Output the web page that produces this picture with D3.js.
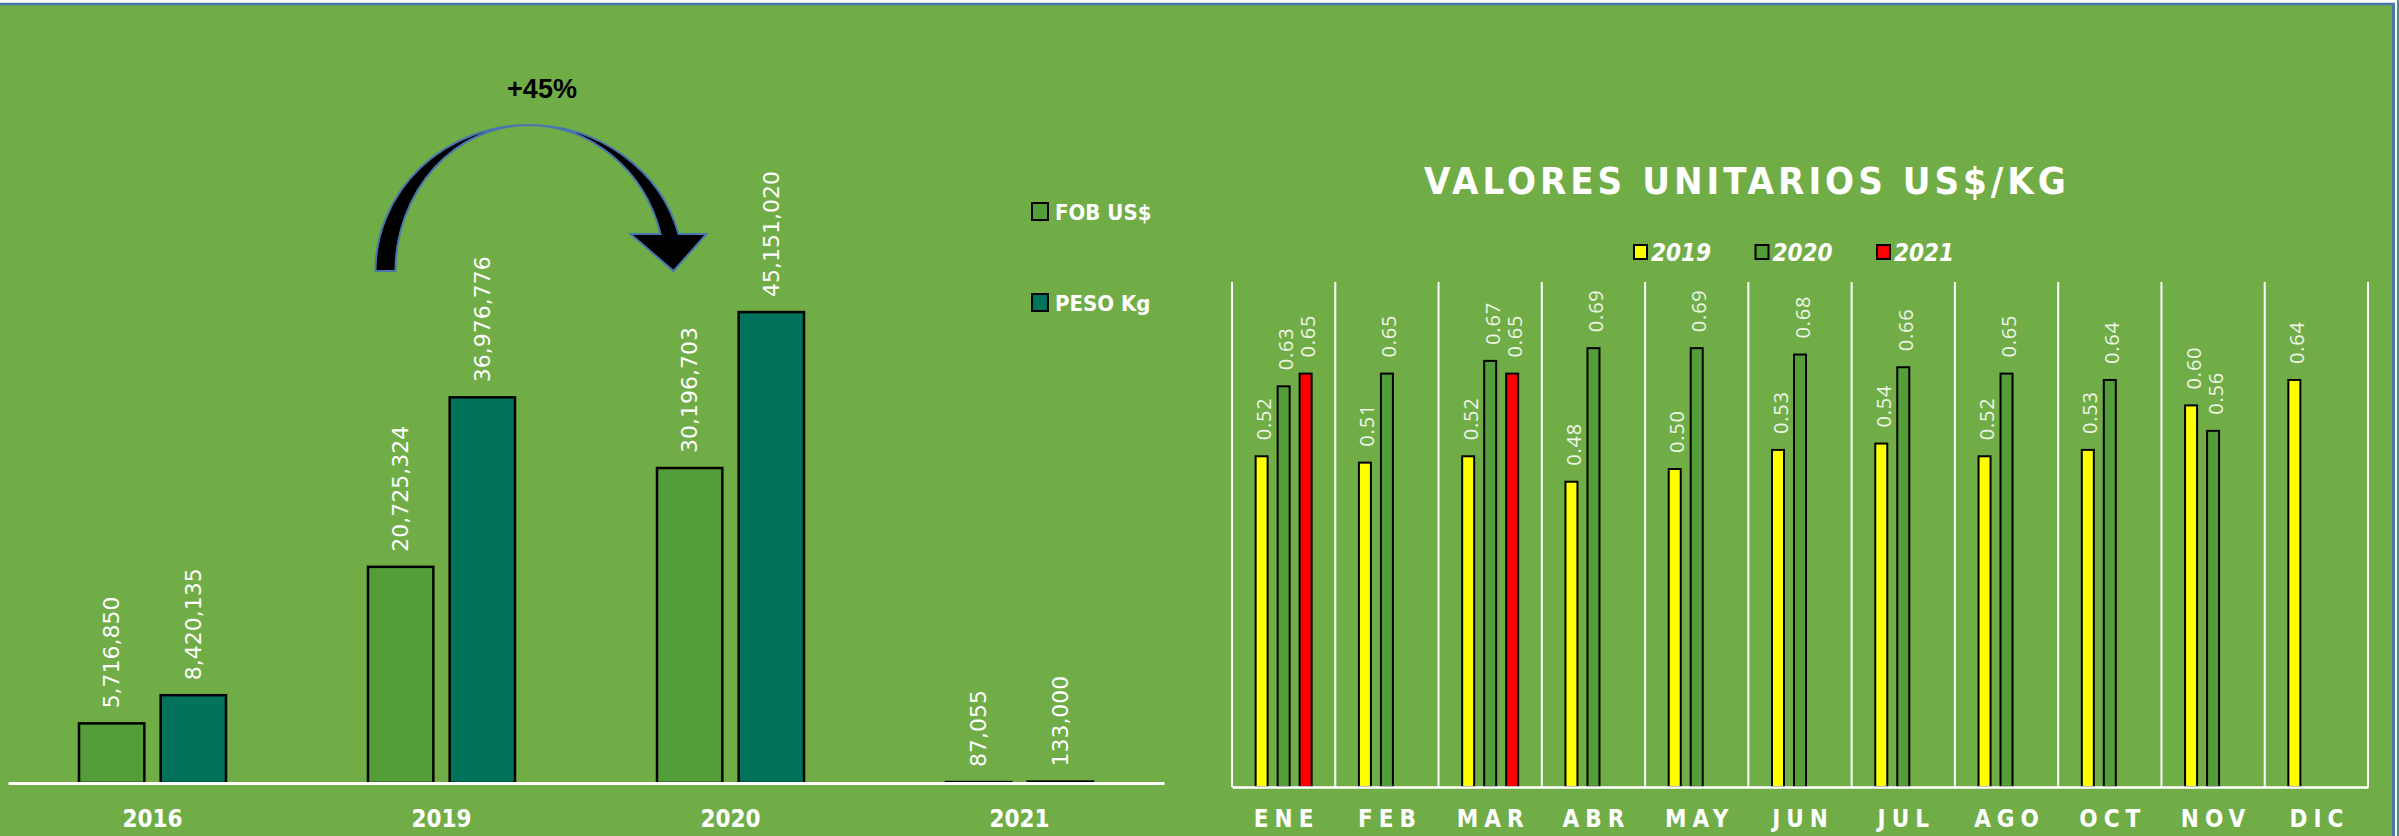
<!DOCTYPE html>
<html>
<head>
<meta charset="utf-8">
<script src="https://cdn.jsdelivr.net/npm/d3@7"></script>
<style>
  html, body { margin: 0; padding: 0; background: #fff; }
  svg { display: block; }
  .cond { font-family: "DejaVu Sans Condensed", "DejaVu Sans", sans-serif; font-stretch: condensed; }
</style>
</head>
<body>
<div id="chart"></div>
<script>
// left chart data
const years = ['2016', '2019', '2020', '2021']
const leftSeries = ['FOB US$', 'PESO Kg']
const fobValues = [5716850, 20725324, 30196703, 87055]
const pesoValues = [8420135, 36976776, 45151020, 133000]

// right chart data
const months = ['ENE', 'FEB', 'MAR', 'ABR', 'MAY', 'JUN', 'JUL', 'AGO', 'OCT', 'NOV', 'DIC']
const rightSeries = ['2019', '2020', '2021']
const unit2019 = [0.52, 0.51, 0.52, 0.48, 0.50, 0.53, 0.54, 0.52, 0.53, 0.60, 0.64]
const unit2020 = [0.63, 0.65, 0.67, 0.69, 0.69, 0.68, 0.66, 0.65, 0.64, 0.56, null]
const unit2021 = [0.65, null, 0.65, null, null, null, null, null, null, null, null]

const width = 2399
const height = 836
const bg = '#70AD47'

const leftColors = { 'FOB US$': '#549E39', 'PESO Kg': '#00735A' }
const rightColors = { '2019': '#FFFF00', '2020': '#549E39', '2021': '#FF0000' }

const svg = d3
  .select('#chart')
  .append('svg')
  .attr('width', width)
  .attr('height', height)

// background + frame
svg.append('rect').attr('x', 0).attr('y', 0).attr('width', width).attr('height', height).attr('fill', '#fff')
svg.append('rect').attr('x', 0).attr('y', 4).attr('width', 2394).attr('height', height).attr('fill', bg)
svg.append('rect').attr('x', 2397).attr('y', 0).attr('width', 2).attr('height', height).attr('fill', '#4f8f80')
svg.append('line').attr('x1', 0).attr('x2', 2395).attr('y1', 4).attr('y2', 4)
  .attr('stroke', '#4A76AE').attr('stroke-width', 2.5)
svg.append('line').attr('x1', 2393.5).attr('x2', 2393.5).attr('y1', 3).attr('y2', height)
  .attr('stroke', '#4A76AE').attr('stroke-width', 3)

// ---------- LEFT CHART ----------
const leftRows = years.map((y, i) => ({ year: y, 'FOB US$': fobValues[i], 'PESO Kg': pesoValues[i] }))

const x0 = d3.scaleBand().domain(years).range([8, 1164])
const bw = x0.bandwidth()
const x1 = d3.scaleBand().domain(leftSeries).range([bw / 2 - 73.5, bw / 2 + 73.5]).paddingInner(0.2)
const yL = d3.scaleLinear().domain([0, 50000000]).range([783, 261.5])

const groups = svg
  .append('g')
  .selectAll('g')
  .data(leftRows)
  .enter()
  .append('g')
  .attr('transform', d => 'translate(' + x0(d.year) + ',0)')

groups
  .selectAll('rect')
  .data(d => leftSeries.map(k => ({ key: k, value: d[k] })))
  .enter()
  .append('rect')
  .attr('x', d => x1(d.key))
  .attr('width', x1.bandwidth())
  .attr('y', d => yL(d.value))
  .attr('height', d => yL(0) - yL(d.value))
  .attr('fill', d => leftColors[d.key])
  .attr('stroke', '#000')
  .attr('stroke-width', 2.5)

groups
  .selectAll('text')
  .data(d => leftSeries.map(k => ({ key: k, value: d[k] })))
  .enter()
  .append('text')
  .attr('transform', d => 'translate(' + (x1(d.key) + x1.bandwidth() / 2) + ',' + (yL(d.value) - 15) + ') rotate(-90)')
  .attr('dominant-baseline', 'central')
  .attr('font-family', '"DejaVu Sans", sans-serif')
  .attr('font-size', 22)
  .attr('fill', '#fff')
  .text(d => d3.format(',')(d.value))

const axisL = svg
  .append('g')
  .attr('transform', 'translate(0,783)')
  .call(d3.axisBottom(x0).tickSize(0).tickSizeOuter(0))
axisL.select('.domain').attr('stroke', '#fff').attr('stroke-width', 3)
axisL.selectAll('text')
  .attr('y', 44).attr('dy', null)
  .attr('class', 'cond')
  .attr('font-size', 24).attr('font-weight', 'bold').attr('fill', '#fff')

// left legend
const legL = svg
  .append('g')
  .selectAll('g')
  .data(leftSeries)
  .enter()
  .append('g')
  .attr('transform', (d, i) => 'translate(1032,' + (203 + i * 91) + ')')
legL.append('rect').attr('width', 16).attr('height', 17)
  .attr('fill', d => leftColors[d]).attr('stroke', '#000').attr('stroke-width', 2)
legL.append('text').attr('x', 23).attr('y', 17)
  .attr('class', 'cond').attr('font-size', 22).attr('font-weight', 'bold').attr('fill', '#fff')
  .text(d => d)

// growth annotation: curved arrow from 2019 to 2020
const a0 = x0('2019') + bw / 2 - 66
const a1 = x0('2020') + bw / 2 - 57
const arcTop = 125
const arcFoot = 271
const midX = a0 + 153
const arrowPath = [
  'M', a0, arcFoot,
  'A', 153, arcFoot - arcTop, 0, 0, 1, midX, arcTop,
  'A', 155, arcFoot - arcTop, 0, 0, 1, a1 + 5, 234,
  'L', a1 + 33, 234,
  'L', a1, arcFoot,
  'L', a1 - 43, 234,
  'L', a1 - 13, 234,
  'A', 137, arcFoot - arcTop, 0, 0, 0, midX, arcTop,
  'A', 133, arcFoot - arcTop, 0, 0, 0, a0 + 20, arcFoot,
  'Z'
].join(' ')
svg.append('path').attr('d', arrowPath)
  .attr('fill', '#000').attr('stroke', '#4A76AE').attr('stroke-width', 2).attr('stroke-linejoin', 'miter')
svg.append('text')
  .attr('x', 542).attr('y', 98)
  .attr('text-anchor', 'middle')
  .attr('font-family', '"Liberation Sans", Arial, sans-serif')
  .attr('font-size', 27).attr('font-weight', 'bold').attr('fill', '#000')
  .text('+45%')

// ---------- RIGHT CHART ----------
const rightRows = months.map((m, i) => ({ month: m, '2019': unit2019[i], '2020': unit2020[i], '2021': unit2021[i] }))

const xm = d3.scaleBand().domain(months).range([1232, 2368])
const mbw = xm.bandwidth()
const xs = d3.scaleBand().domain(rightSeries).range([mbw / 2 - 28, mbw / 2 + 28]).paddingInner(10 / 22)
const yR = d3.scaleLinear().domain([0, 0.8]).range([787, 278.2])

svg.append('text')
  .attr('x', 1747).attr('y', 194)
  .attr('text-anchor', 'middle')
  .attr('class', 'cond')
  .attr('font-size', 38).attr('font-weight', 'bold').attr('letter-spacing', 4)
  .attr('fill', '#fff')
  .text('VALORES UNITARIOS US$/KG')

// month dividers
svg
  .append('g')
  .selectAll('line')
  .data(months.concat(['end']))
  .enter()
  .append('line')
  .attr('x1', d => (d === 'end' ? xm.range()[1] : xm(d)))
  .attr('x2', d => (d === 'end' ? xm.range()[1] : xm(d)))
  .attr('y1', 282)
  .attr('y2', 787)
  .attr('stroke', '#fff')
  .attr('stroke-width', 2)

const mGroups = svg
  .append('g')
  .selectAll('g')
  .data(rightRows)
  .enter()
  .append('g')
  .attr('transform', d => 'translate(' + xm(d.month) + ',0)')

mGroups
  .selectAll('rect')
  .data(d => rightSeries.filter(k => d[k] != null).map(k => ({ key: k, value: d[k] })))
  .enter()
  .append('rect')
  .attr('x', d => xs(d.key))
  .attr('width', xs.bandwidth())
  .attr('y', d => yR(d.value))
  .attr('height', d => yR(0) - yR(d.value))
  .attr('fill', d => rightColors[d.key])
  .attr('stroke', '#000')
  .attr('stroke-width', 2)

mGroups
  .selectAll('text')
  .data(d => rightSeries.filter(k => d[k] != null).map(k => ({ key: k, value: d[k] })))
  .enter()
  .append('text')
  .attr('transform', d => 'translate(' + (xs(d.key) + xs.bandwidth() / 2 + 2) + ',' + (yR(d.value) - 16) + ') rotate(-90)')
  .attr('dominant-baseline', 'central')
  .attr('font-family', '"Open Sans", sans-serif')
  .attr('font-size', 20)
  .attr('letter-spacing', 0.8)
  .attr('fill', '#eef5e8')
  .text(d => d3.format('.2f')(d.value))

const axisR = svg
  .append('g')
  .attr('transform', 'translate(0,787)')
  .call(d3.axisBottom(xm).tickSize(0).tickSizeOuter(0))
axisR.select('.domain').attr('stroke', '#fff').attr('stroke-width', 2.5)
axisR.selectAll('text')
  .attr('y', 40).attr('dy', null).attr('dx', 3)
  .attr('class', 'cond')
  .attr('font-size', 24).attr('font-weight', 'bold').attr('letter-spacing', 6).attr('fill', '#fff')

// right legend
const legR = svg
  .append('g')
  .selectAll('g')
  .data(rightSeries)
  .enter()
  .append('g')
  .attr('transform', (d, i) => 'translate(' + (1634 + i * 121.5) + ',245)')
legR.append('rect').attr('width', 13).attr('height', 14)
  .attr('fill', d => rightColors[d]).attr('stroke', '#000').attr('stroke-width', 2)
legR.append('text').attr('x', 17).attr('y', 16)
  .attr('class', 'cond').attr('font-size', 24).attr('font-weight', 'bold').attr('font-style', 'italic')
  .attr('fill', '#fff')
  .text(d => d)
</script>
</body>
</html>
